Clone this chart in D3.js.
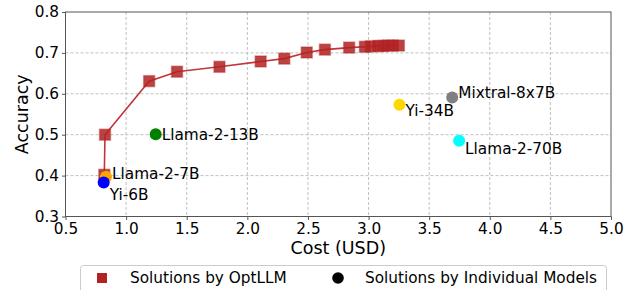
<!DOCTYPE html>
<html>
<head>
  <script src="https://d3js.org/d3.v7.min.js"></script>
  <style>
    body { margin: 0; background: #fff; }
    text { font-family: "DejaVu Sans", sans-serif; fill: #000; }
  </style>
</head>
<body>
  <svg id="chart"></svg>
  <script>
    // OptLLM pareto solutions (cost, accuracy)
    var optCost = [0.82, 0.826, 1.19, 1.42, 1.77, 2.11, 2.305, 2.49, 2.64, 2.84, 2.97, 3.02, 3.08, 3.12, 3.16, 3.20, 3.25];
    var optAcc  = [0.402, 0.50, 0.631, 0.654, 0.666, 0.679, 0.686, 0.701, 0.708, 0.713, 0.715, 0.716, 0.717, 0.717, 0.718, 0.718, 0.718];

    // individual models
    var modelNames = ["Llama-2-7B", "Yi-6B", "Llama-2-13B", "Yi-34B", "Mixtral-8x7B", "Llama-2-70B"];
    var modelCost  = [0.834, 0.815, 1.244, 3.255, 3.69, 3.747];
    var modelAcc   = [0.397, 0.383, 0.501, 0.573, 0.591, 0.485];
    var modelColor = ["orange", "blue", "green", "gold", "gray", "cyan"];
    var labelDx    = [6, 6, 6, 6, 6, 6];
    var labelDy    = [-3, 12, 0, 6, -5, 8];

    var xTicks = [0.5, 1.0, 1.5, 2.0, 2.5, 3.0, 3.5, 4.0, 4.5, 5.0];
    var yTicks = [0.3, 0.4, 0.5, 0.6, 0.7, 0.8];

    var width = 634, height = 290;
    var pl = 65.5, pr = 611, pt = 12, pb = 216.5;

    var svg = d3.select("#chart").attr("width", width).attr("height", height);

    var x = d3.scaleLinear().domain([0.5, 5.0]).range([pl, pr]);
    var y = d3.scaleLinear().domain([0.3, 0.8]).range([pb, pt]);

    // grid
    svg.append("g").selectAll("line").data(xTicks.slice(1, -1)).enter().append("line")
      .attr("x1", d => x(d)).attr("x2", d => x(d)).attr("y1", pt).attr("y2", pb)
      .attr("stroke", "#b0b0b0").attr("stroke-width", 0.8).attr("stroke-dasharray", "3,2");
    svg.append("g").selectAll("line").data(yTicks.slice(1, -1)).enter().append("line")
      .attr("y1", d => y(d)).attr("y2", d => y(d)).attr("x1", pl).attr("x2", pr)
      .attr("stroke", "#b0b0b0").attr("stroke-width", 0.8).attr("stroke-dasharray", "3,2");

    // axes
    var xAxis = svg.append("g").attr("transform", "translate(0," + pb + ")")
      .call(d3.axisBottom(x).tickValues(xTicks).tickFormat(d3.format(".1f")).tickSizeOuter(0).tickSize(3.5).tickPadding(3));
    var yAxis = svg.append("g").attr("transform", "translate(" + pl + ",0)")
      .call(d3.axisLeft(y).tickValues(yTicks).tickFormat(d3.format(".1f")).tickSizeOuter(0).tickSize(3.5).tickPadding(3));
    [xAxis, yAxis].forEach(function(a) {
      a.select(".domain").remove();
      a.selectAll("line").attr("stroke", "#555");
      a.selectAll("text").attr("font-size", 15.3).attr("fill", "#000").attr("font-family", "DejaVu Sans");
    });
    svg.append("rect").attr("x", pl).attr("y", pt).attr("width", pr - pl).attr("height", pb - pt)
      .attr("fill", "none").attr("stroke", "#555").attr("stroke-width", 1);

    svg.append("text").attr("x", (pl + pr) / 2).attr("y", 254).attr("text-anchor", "middle")
      .attr("font-size", 17.5).text("Cost (USD)");
    svg.append("text").attr("transform", "translate(28," + ((pt + pb) / 2) + ") rotate(-90)")
      .attr("text-anchor", "middle").attr("font-size", 17.5).text("Accuracy");

    // OptLLM line + squares
    var optData = optCost.map((c, i) => [c, optAcc[i]]);
    svg.append("path").datum(optData)
      .attr("d", d3.line().x(d => x(d[0])).y(d => y(d[1])))
      .attr("fill", "none").attr("stroke", "#c0363a").attr("stroke-width", 1.6);
    var sq = 11;
    svg.append("g").selectAll("rect").data(optData).enter().append("rect")
      .attr("x", d => x(d[0]) - sq / 2).attr("y", d => y(d[1]) - sq / 2)
      .attr("width", sq).attr("height", sq)
      .attr("fill", "#b22222").attr("fill-opacity", 0.85)
      .attr("stroke", "#b22222").attr("stroke-opacity", 0.4).attr("stroke-width", 1.5);

    // individual model points
    var models = modelNames.map((n, i) => ({ name: n, c: modelCost[i], a: modelAcc[i], col: modelColor[i], dx: labelDx[i], dy: labelDy[i] }));
    svg.append("g").selectAll("circle").data(models).enter().append("circle")
      .attr("cx", d => x(d.c)).attr("cy", d => y(d.a)).attr("r", 6)
      .attr("fill", d => d.col);
    svg.append("g").selectAll("text").data(models).enter().append("text")
      .attr("x", d => x(d.c) + d.dx).attr("y", d => y(d.a) + d.dy)
      .attr("dy", "0.35em").attr("font-size", 15.3).text(d => d.name);

    // legend
    var lg = svg.append("g");
    lg.append("rect").attr("x", 80.5).attr("y", 265.5).attr("width", 526).attr("height", 40).attr("rx", 3)
      .attr("fill", "#fff").attr("stroke", "#ccc");
    lg.append("rect").attr("x", 97).attr("y", 273).attr("width", 10).attr("height", 10).attr("fill", "#b22222");
    lg.append("text").attr("x", 130).attr("y", 278).attr("dy", "0.35em").attr("font-size", 15.3).text("Solutions by OptLLM");
    lg.append("circle").attr("cx", 338).attr("cy", 278).attr("r", 5.8).attr("fill", "#000");
    lg.append("text").attr("x", 365).attr("y", 278).attr("dy", "0.35em").attr("font-size", 15.3).text("Solutions by Individual Models");
  </script>
</body>
</html>
